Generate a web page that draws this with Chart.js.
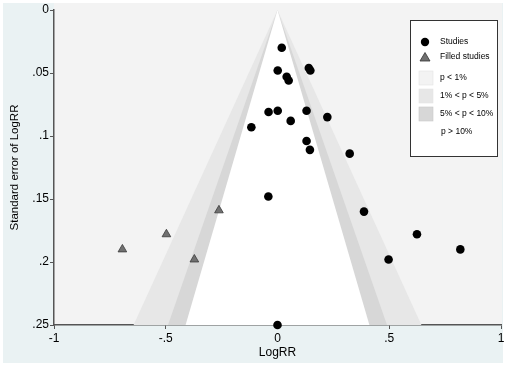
<!DOCTYPE html>
<html>
<head>
<meta charset="utf-8">
<script src="https://cdn.jsdelivr.net/npm/chart.js@4"></script>
<style>
html,body{margin:0;padding:0;background:#fff;}
#wrap{width:510px;height:369px;position:relative;}
</style>
</head>
<body>
<div id="wrap"><canvas id="c" width="510" height="369"></canvas></div>
<script>
// Observed studies (LogRR, standard error)
const studyX  = [0.019, 0.001, 0.041, 0.050, 0.140, 0.147, -0.040, 0.001, 0.130, 0.059, 0.223, -0.117, 0.130, 0.145, 0.323, -0.041, 0.387, 0.624, 0.818, 0.497, 0.000];
const studySE = [0.030, 0.048, 0.053, 0.056, 0.046, 0.048, 0.081, 0.080, 0.080, 0.088, 0.085, 0.093, 0.104, 0.111, 0.114, 0.148, 0.160, 0.178, 0.190, 0.198, 0.250];
// Filled (imputed) studies
const filledX  = [-0.694, -0.497, -0.262, -0.372];
const filledSE = [0.190, 0.178, 0.159, 0.198];
// Contour z-values: p=1%, 5%, 10%
const contourZ = [2.576, 1.960, 1.645];
const contourLabels = ["p < 1%", "1% < p < 5%", "5% < p < 10%", "p > 10%"];
const xTicks = [-1, -0.5, 0, 0.5, 1];
const yTicks = [0, 0.05, 0.1, 0.15, 0.2, 0.25];

const shadeColors = ["#f3f3f3", "#e7e7e7", "#d7d7d7", "#ffffff"];
const FONT = '"Liberation Sans", Arial, sans-serif';

function fmt(v){
  if (Math.abs(v) < 1e-9) return "0";
  let s = String(Math.round(v*1000)/1000);
  return s.replace(/^0\./, ".").replace(/^-0\./, "-.");
}

const bgPlugin = {
  id: 'bg',
  beforeDraw(chart){
    const ctx = chart.ctx;
    ctx.save();
    ctx.fillStyle = '#ffffff';
    ctx.fillRect(0,0,chart.width,chart.height);
    ctx.fillStyle = '#eaf2f3';
    ctx.fillRect(3,3,500,360);
    const a = chart.chartArea;
    ctx.fillStyle = shadeColors[0];
    ctx.fillRect(a.left, a.top-7, a.right-a.left+1, a.bottom-a.top+7);
    ctx.restore();
  },
  beforeDatasetsDraw(chart){
    const ctx = chart.ctx, xs = chart.scales.x, ys = chart.scales.y;
    const seMax = ys.max;
    ctx.save();
    contourZ.forEach((z,i)=>{
      ctx.beginPath();
      ctx.moveTo(xs.getPixelForValue(0), ys.getPixelForValue(0));
      ctx.lineTo(xs.getPixelForValue(-z*seMax), ys.getPixelForValue(seMax));
      ctx.lineTo(xs.getPixelForValue(z*seMax), ys.getPixelForValue(seMax));
      ctx.closePath();
      ctx.fillStyle = shadeColors[i+1];
      ctx.fill();
    });
    ctx.restore();
  },
  afterDraw(chart){
    const ctx = chart.ctx;
    ctx.save();
    const L=410.5, T=20.5, R=497.5, B=156.5;
    ctx.fillStyle='#ffffff';
    ctx.fillRect(L,T,R-L,B-T);
    ctx.strokeStyle='#333';
    ctx.lineWidth=1;
    ctx.strokeRect(L,T,R-L,B-T);
    ctx.font='8.5px ' + FONT;
    ctx.textBaseline='middle';
    ctx.textAlign='left';
    // Studies
    ctx.beginPath(); ctx.arc(425,42,4.2,0,Math.PI*2); ctx.fillStyle='#000'; ctx.fill();
    ctx.fillStyle='#000'; ctx.fillText('Studies',440,42);
    // Filled studies
    ctx.beginPath(); ctx.moveTo(425,52.5); ctx.lineTo(430,61); ctx.lineTo(420,61); ctx.closePath();
    ctx.fillStyle='#707070'; ctx.fill(); ctx.strokeStyle='#333'; ctx.lineWidth=0.8; ctx.stroke();
    ctx.fillStyle='#000'; ctx.fillText('Filled studies',440,57);
    const ys=[78,96,114,132];
    contourLabels.forEach((t,i)=>{
      if(i<3){
        ctx.fillStyle=shadeColors[i]; ctx.fillRect(419,ys[i]-7,14,14);
        ctx.strokeStyle = i===2? '#c8c8c8' : '#e4e4e4'; ctx.lineWidth=0.6; ctx.strokeRect(419,ys[i]-7,14,14);
      }
      ctx.fillStyle='#000';
      ctx.fillText(t, i===3?441:440, ys[i]);
    });
    ctx.restore();
  }
};

new Chart(document.getElementById('c'), {
  type: 'scatter',
  data: {
    datasets: [
      {
        label: 'Studies',
        data: studyX.map((x,i)=>({x:x, y:studySE[i]})),
        pointStyle: 'circle',
        pointRadius: 4.3,
        backgroundColor: '#000',
        borderColor: '#000',
        borderWidth: 0,
        clip: false
      },
      {
        label: 'Filled studies',
        data: filledX.map((x,i)=>({x:x, y:filledSE[i]})),
        pointStyle: 'triangle',
        pointRadius: 5,
        backgroundColor: '#707070',
        borderColor: '#3a3a3a',
        borderWidth: 0.8,
        clip: false
      }
    ]
  },
  plugins: [bgPlugin],
  options: {
    responsive: false,
    animation: false,
    events: [],
    layout: { padding: { left: 0, top: 10, right: 9, bottom: 9 } },
    plugins: { legend: { display: false }, tooltip: { enabled: false } },
    scales: {
      x: {
        type: 'linear', min: -1, max: 1,
        afterBuildTicks(s){ s.ticks = xTicks.map(v=>({value:v})); },
        afterFit(s){ s.height = 35; },
        ticks: { callback: v=>fmt(v), color: '#000', font: { size: 12, family: FONT }, padding: 2, maxRotation: 0 },
        grid: { drawOnChartArea: false, drawTicks: true, tickLength: 4, color: '#555', lineWidth: 1 },
        border: { display: true, color: '#555', width: 1.5 },
        title: { display: true, text: 'LogRR', color: '#000', font: { size: 12, family: FONT }, padding: { top: 0, bottom: 0 } }
      },
      y: {
        type: 'linear', min: 0, max: 0.25, reverse: true,
        afterBuildTicks(s){ s.ticks = yTicks.map(v=>({value:v})); },
        afterFit(s){ s.width = 54; },
        ticks: { callback: v=>fmt(v), color: '#000', font: { size: 12, family: FONT }, padding: 1 },
        grid: { drawOnChartArea: false, drawTicks: true, tickLength: 4, color: '#555', lineWidth: 1 },
        border: { display: true, color: '#555', width: 1.5 },
        title: { display: true, text: 'Standard error of LogRR', color: '#000', font: { size: 11.5, family: FONT }, padding: { top: 8, bottom: 0 } }
      }
    }
  }
});
</script>
</body>
</html>
